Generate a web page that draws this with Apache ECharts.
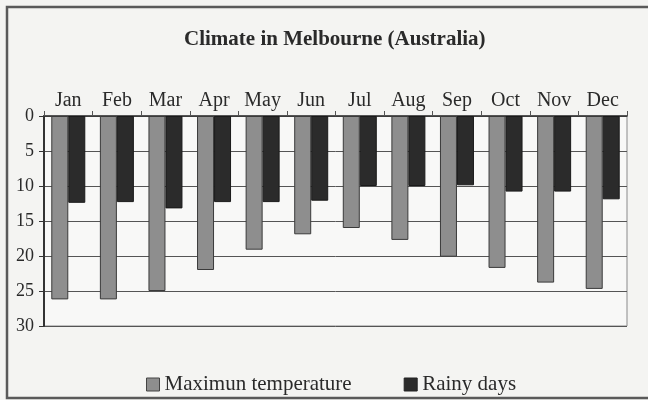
<!DOCTYPE html>
<html>
<head>
<meta charset="utf-8">
<script src="https://cdn.jsdelivr.net/npm/echarts@6/dist/echarts.min.js"></script>
<style>
  html, body { margin: 0; padding: 0; background: #f4f4f2; }
  #chart { width: 648px; height: 400px; }
</style>
</head>
<body>
<div id="chart"></div>
<script>
// Monthly climate figures for Melbourne
const months = ['Jan', 'Feb', 'Mar', 'Apr', 'May', 'Jun', 'Jul', 'Aug', 'Sep', 'Oct', 'Nov', 'Dec'];
const maxTemperature = [26.2, 26.2, 25.0, 22.0, 19.1, 16.9, 16.0, 17.7, 20.1, 21.7, 23.8, 24.7];
const rainyDays = [12.4, 12.3, 13.2, 12.3, 12.3, 12.1, 10.0, 10.0, 9.9, 10.8, 10.8, 11.9];
const yTicks = { min: 0, max: 30, interval: 5 };

const serif = '"Liberation Serif", "DejaVu Serif", serif';

const chart = echarts.init(document.getElementById('chart'), null, { renderer: 'canvas' });

chart.setOption({
  backgroundColor: '#f4f4f2',
  animation: false,
  title: {
    text: 'Climate in Melbourne (Australia)',
    left: 179,
    top: 24,
    textStyle: { fontFamily: serif, fontSize: 21, fontWeight: 'bold', color: '#2a2a2a' }
  },
  graphic: [
    {
      type: 'polyline',
      shape: { points: [[660, 7], [7, 7], [7, 398], [660, 398]] },
      style: { stroke: '#5a5a5a', lineWidth: 2.5, fill: null },
      silent: true
    }
  ],
  legend: {
    left: 141,
    top: 369,
    itemWidth: 13,
    itemHeight: 13,
    itemGap: 52,
    textStyle: { fontFamily: serif, fontSize: 21, color: '#2a2a2a' },
    data: [
      { name: 'Maximun temperature', icon: 'rect', itemStyle: { borderColor: '#444', borderWidth: 1 } },
      { name: 'Rainy days', icon: 'rect', itemStyle: { borderColor: '#222', borderWidth: 1 } }
    ]
  },
  grid: {
    left: 44,
    right: 21,
    top: 116,
    bottom: 74,
    show: true,
    backgroundColor: '#f8f8f7',
    borderColor: '#8a8a8a',
    borderWidth: 1
  },
  xAxis: {
    type: 'category',
    position: 'top',
    data: months,
    axisLine: { show: true, lineStyle: { color: '#333', width: 1.5 } },
    axisTick: { show: true, length: 5, lineStyle: { color: '#555' } },
    axisLabel: { fontFamily: serif, fontSize: 20, color: '#2a2a2a', margin: 5 }
  },
  yAxis: {
    type: 'value',
    inverse: true,
    min: yTicks.min,
    max: yTicks.max,
    interval: yTicks.interval,
    axisLine: { show: true, lineStyle: { color: '#333', width: 2 } },
    axisTick: { show: true, length: 5, lineStyle: { color: '#333' } },
    axisLabel: { fontFamily: serif, fontSize: 18, color: '#2a2a2a', margin: 10 },
    splitLine: { show: true, lineStyle: { color: '#555', width: 1 } }
  },
  series: [
    {
      name: 'Maximun temperature',
      type: 'bar',
      data: maxTemperature,
      barWidth: 17,
      barGap: '0%',
      itemStyle: { color: '#8e8e8e', borderColor: '#3a3a3a', borderWidth: 1 }
    },
    {
      name: 'Rainy days',
      type: 'bar',
      data: rainyDays,
      barWidth: 17,
      barGap: '0%',
      itemStyle: { color: '#2b2b2b', borderColor: '#1a1a1a', borderWidth: 1 }
    }
  ]
});
</script>
</body>
</html>
